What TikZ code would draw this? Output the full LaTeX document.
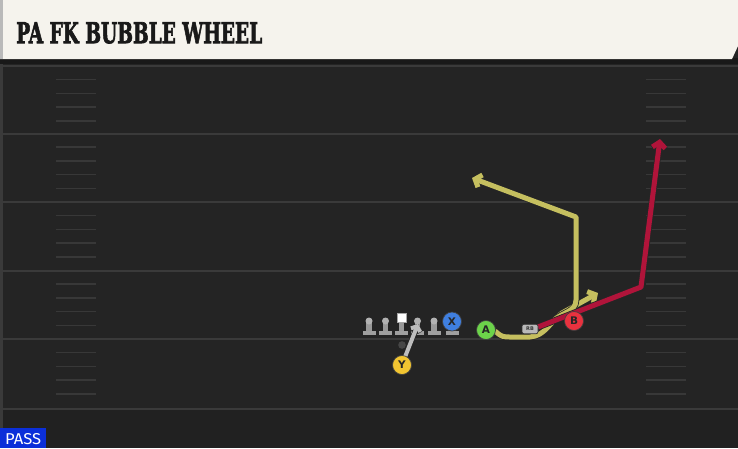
\documentclass[tikz,border=0pt]{standalone}
\usepackage{fontspec}
\usetikzlibrary{arrows.meta}
\newfontfamily\titlefont{DejaVu Serif Condensed Bold}[FakeBold=2.5]
\newfontfamily\lblfont{DejaVu Sans}
\newfontfamily\passfont{Fira Sans}
\definecolor{fieldbg}{HTML}{242424}
\definecolor{fieldline}{HTML}{3A3A3A}
\definecolor{hashc}{HTML}{383838}
\definecolor{headerbg}{HTML}{F5F3ED}
\definecolor{olive}{HTML}{C5BF5F}
\definecolor{routered}{HTML}{B0143A}
\definecolor{routegray}{HTML}{BDBDBD}
\definecolor{pgreen}{HTML}{6CD34A}
\definecolor{pblue}{HTML}{3F7FE0}
\definecolor{pyellow}{HTML}{F2C531}
\definecolor{pred}{HTML}{E8323F}
\definecolor{passblue}{HTML}{0B2FD9}
\tikzset{
  fline/.style={draw=fieldline, line width=2pt},
  hashmark/.style={draw=hashc, line width=1.5pt},
  player/.style={circle, minimum size=19pt, inner sep=0pt, draw=black!75, line width=0.7pt,
     font=\lblfont\bfseries\fontsize{10.5}{10.5}\selectfont, text=black!85},
  rbbox/.style={draw=black!80, fill=gray!55, rounded corners=2pt, minimum width=16pt, minimum height=9.5pt,
      inner sep=0pt, line width=0.7pt, font=\lblfont\bfseries\fontsize{5}{5}\selectfont, text=black!80},
  route/.style={line width=5pt, line join=round,
     preaction={draw=black!85, line width=6.6pt}},
  arrowtip/.style={-{Straight Barb[length=5.5pt,width=13pt]}},
  lineman/.pic={
    \fill[gray!75] (-6.5,-4) rectangle (6.5,0);
    \fill[gray!80] (-2.6,-13) rectangle (2.6,-4);
    \fill[gray!60] (0,-14) circle (3.5);
  }
}
\begin{document}
\begin{tikzpicture}[x=1pt,y=-1pt]
\useasboundingbox (0,0) rectangle (738,448);
% field
\fill[fieldbg] (0,0) rectangle (738,448);
\fill[fieldbg!92!black] (0,409) rectangle (738,448);
\fill[fieldline] (0,60) rectangle (2.5,448);
% yard lines
\foreach \y in {66,133.5,202,270.5,339,408.5}{
  \draw[fline] (2.5,\y) -- (738,\y);
}
% hash marks
\foreach \y in {66,133.5,202,270.5,339}{
  \foreach \k in {1,2,3,4}{
    \draw[hashmark] (56,\y+13.7*\k) -- (96,\y+13.7*\k);
    \draw[hashmark] (646,\y+13.7*\k) -- (686,\y+13.7*\k);
  }
}
% header
\fill[black!90] (0,58) rectangle (738,64);
\fill[headerbg] (0,0) -- (738,0) -- (738,46) -- (732,59) -- (0,59) -- cycle;
\fill[gray!55] (0,0) rectangle (3,59);
\node[anchor=north west, inner sep=0pt, text=black!90] (title) at (16,22)
  {\resizebox{246pt}{21pt}{\titlefont PA FK BUBBLE WHEEL}};
% PASS label
\fill[passblue] (0,428) rectangle (46,448);
\node[anchor=north west, inner sep=0pt, text=white] (pass) at (5,433)
  {\resizebox{36pt}{11pt}{\passfont PASS}};
% offensive line
\pic at (369,335) {lineman};
\pic at (385.5,335) {lineman};
\fill[gray!75] (395,331) rectangle (408,335);
\fill[gray!80] (399,322) rectangle (404,331);
\fill[white, draw=gray!70, line width=0.6pt] (397,313.5) rectangle (406,322);
\pic at (417.5,335) {lineman};
\pic at (434,335) {lineman};
\fill[gray!75] (445.5,331) rectangle (459,335);
% QB dot
\fill[gray!55!black] (402,345) circle (3.8);
% route points
\coordinate (rbend) at (641,287);
\coordinate (rtip) at (660,139);
\coordinate (bubtip) at (598,293);
\coordinate (wcorner) at (576,217);
\coordinate (wtip) at (472,178);
\coordinate (ytip) at (418,324);
\coordinate (A) at (486,330);
\coordinate (RBc) at (530,329);
\coordinate (Yc) at (402,365);
% routes
\draw[route, olive, arrowtip] (495,331) .. controls (502,337) .. (512,337) -- (530,337)
   .. controls (545,336) and (550,322) .. (562,313) -- (bubtip);
\draw[route, olive, arrowtip] (553,321) .. controls (562,312) and (576,312) .. (576,300)
   -- (wcorner) -- (wtip);
\draw[route, routered, arrowtip] (538,327) -- (rbend) -- (rtip);
\draw[line width=4pt, routegray, -{Straight Barb[length=4pt,width=10pt]},
      preaction={draw=black!85, line width=5.4pt}] (405,357) -- (ytip);
% players
\node[player, fill=pgreen] (Anode) at (A) {A};
\node[player, fill=pred] (B) at (574,321) {B};
\node[player, fill=pblue] (X) at (452,321.5) {X};
\node[player, fill=pyellow] (Y) at (Yc) {Y};
\node[rbbox] (RB) at (RBc) {RB};
\end{tikzpicture}
\end{document}
